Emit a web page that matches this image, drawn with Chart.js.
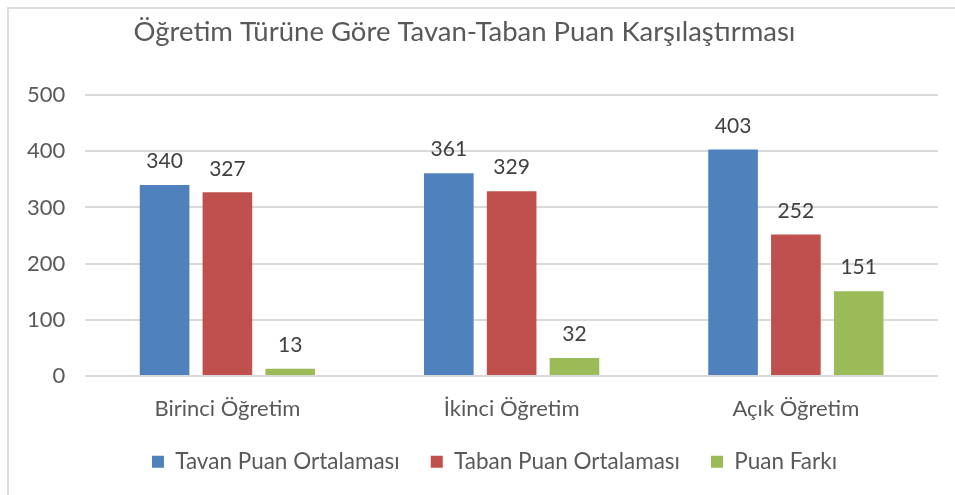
<!DOCTYPE html>
<html>
<head>
<meta charset="utf-8">
<script src="https://cdn.jsdelivr.net/npm/chart.js@4"></script>
<style>
  body { margin: 0; background: #fff; }
  #wrap { position: relative; width: 955px; height: 495px; overflow: hidden; }
  #frame { position: absolute; left: 7px; top: 7px; width: 1000px; height: 600px; border: 2px solid #dedede; }
  #wrap canvas { position: absolute; left: 0; top: 0; }
</style>
</head>
<body>
<div id="wrap">
  <div id="frame"></div>
  <canvas id="myChart" width="955" height="495"></canvas>
</div>
<script>
// chart values
const categories = ["Birinci Öğretim", "İkinci Öğretim", "Açık Öğretim"];
const tavan = [340, 361, 403];
const taban = [327, 329, 252];
const fark = [13, 32, 151];
const seriesNames = ["Tavan Puan Ortalaması", "Taban Puan Ortalaması", "Puan Farkı"];
const yTicks = [0, 100, 200, 300, 400, 500];

const FONT = "Lato, 'Liberation Sans', sans-serif";

// draws the value above each bar (no datalabels plugin available offline)
const valueLabels = {
  id: "valueLabels",
  afterDatasetsDraw(chart) {
    const ctx = chart.ctx;
    ctx.save();
    ctx.font = "21px " + FONT;
    ctx.fillStyle = "#404040";
    ctx.textAlign = "center";
    ctx.textBaseline = "bottom";
    chart.data.datasets.forEach((ds, i) => {
      chart.getDatasetMeta(i).data.forEach((bar, j) => {
        ctx.fillText(ds.data[j], bar.x, bar.y - 13);
      });
    });
    ctx.restore();
  },
};

// legend sits closer to the axis labels and a bit to the right, title a bit left
const LEGEND_LIFT = 15;
const LEGEND_SHIFT_X = 22;
const TITLE_SHIFT_X = -8;
const nudge = {
  id: "nudge",
  afterInit(chart) {
    const legend = chart.legend;
    const fit = legend.fit.bind(legend);
    legend.fit = function () {
      fit();
      this.height -= LEGEND_LIFT;
    };
    const drawLegend = legend.draw.bind(legend);
    legend.draw = function (area) {
      // legend clips to its own box, so widen it while drawing
      this.bottom += LEGEND_LIFT;
      chart.ctx.save();
      chart.ctx.translate(LEGEND_SHIFT_X, -LEGEND_LIFT);
      drawLegend(area);
      chart.ctx.restore();
      this.bottom -= LEGEND_LIFT;
    };
    const title = chart.titleBlock;
    const drawTitle = title.draw.bind(title);
    title.draw = function (area) {
      chart.ctx.save();
      chart.ctx.translate(TITLE_SHIFT_X, 0);
      drawTitle(area);
      chart.ctx.restore();
    };
  },
};

const data = {
  labels: categories,
  datasets: [
    { label: seriesNames[0], data: tavan, backgroundColor: "#4f81bd" },
    { label: seriesNames[1], data: taban, backgroundColor: "#c0504d" },
    { label: seriesNames[2], data: fark, backgroundColor: "#9bbb59" },
  ],
};

const config = {
  type: "bar",
  data: data,
  plugins: [valueLabels, nudge],
  options: {
    responsive: false,
    animation: false,
    categoryPercentage: 0.663,
    barPercentage: 0.79,
    layout: { padding: { left: 7, right: 17, top: 10, bottom: 12 } },
    plugins: {
      title: {
        display: true,
        text: "Öğretim Türüne Göre Tavan-Taban Puan Karşılaştırması",
        color: "#595959",
        font: { family: FONT, size: 27.5, weight: "normal" },
        padding: { top: 6, bottom: 46 },
      },
      legend: {
        position: "bottom",
        labels: {
          color: "#595959",
          font: { family: FONT, size: 22.5 },
          boxWidth: 12,
          boxHeight: 12,
          padding: 31,
        },
      },
      tooltip: { enabled: false },
    },
    scales: {
      x: {
        grid: { display: false },
        border: { display: false },
        ticks: { color: "#595959", font: { family: FONT, size: 22 }, padding: 12 },
      },
      y: {
        min: 0,
        max: 500,
        afterBuildTicks: (axis) => { axis.ticks = yTicks.map((v) => ({ value: v })); },
        grid: { color: "#d9d9d9", lineWidth: 2, drawTicks: false },
        border: { display: false },
        ticks: { color: "#595959", font: { family: FONT, size: 22 }, padding: 20 },
      },
    },
  },
};

const myChart = new Chart(document.getElementById("myChart"), config);
</script>
</body>
</html>
